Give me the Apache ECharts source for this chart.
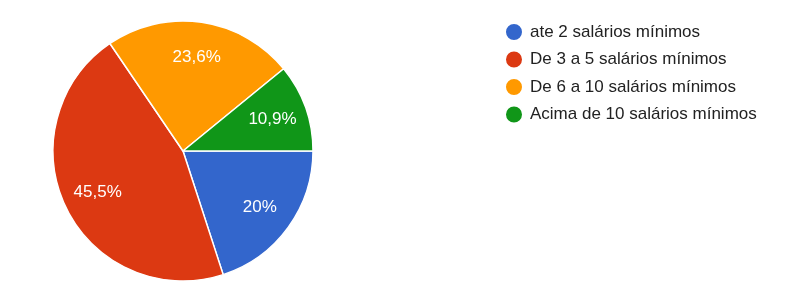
<!DOCTYPE html>
<html>
<head>
<meta charset="utf-8">
<script src="https://cdn.jsdelivr.net/npm/echarts@6/dist/echarts.min.js"></script>
<style>html,body{margin:0;padding:0;background:#fff}#c{width:805px;height:289px}</style>
</head>
<body>
<div id="c"></div>
<script>
const categories = ['ate 2 salários mínimos', 'De 3 a 5 salários mínimos', 'De 6 a 10 salários mínimos', 'Acima de 10 salários mínimos'];
const values = [20, 45.5, 23.6, 10.9];
const colors = ['#3366cc', '#dc3912', '#ff9900', '#109618'];

const data = categories.map((n, i) => ({ name: n, value: values[i], itemStyle: { color: colors[i] } }));
const FONT = '"Liberation Sans", Arial, sans-serif';
const chart = echarts.init(document.getElementById('c'), null, { renderer: 'canvas' });
chart.setOption({
  animation: false,
  legend: {
    orient: 'vertical',
    left: 504,
    top: 22,
    padding: 0,
    icon: 'circle',
    itemWidth: 18,
    itemHeight: 18,
    itemGap: 7.5,
    data: categories,
    textStyle: { fontFamily: FONT, fontSize: 17, lineHeight: 18, color: '#222', padding: [0, 0, 0, 2] },
    selectedMode: false
  },
  series: [
    {
      type: 'pie',
      center: [183, 151],
      radius: [0, 130],
      startAngle: 0,
      clockwise: true,
      silent: true,
      label: { show: false },
      labelLine: { show: false },
      itemStyle: { borderColor: '#fff', borderWidth: 1.5 },
      data: data
    },
    {
      type: 'pie',
      center: [183, 151],
      radius: [54, 130],
      startAngle: 0,
      clockwise: true,
      silent: true,
      legendHoverLink: false,
      itemStyle: { color: 'rgba(0,0,0,0)', borderWidth: 0 },
      label: {
        show: true,
        position: 'inside',
        color: '#fff',
        fontFamily: FONT,
        fontSize: 17,
        formatter: p => String(p.value).replace('.', ',') + '%'
      },
      labelLine: { show: false },
      data: categories.map((n, i) => ({ name: n + ' ', value: values[i] }))
    }
  ]
});
</script>
</body>
</html>
